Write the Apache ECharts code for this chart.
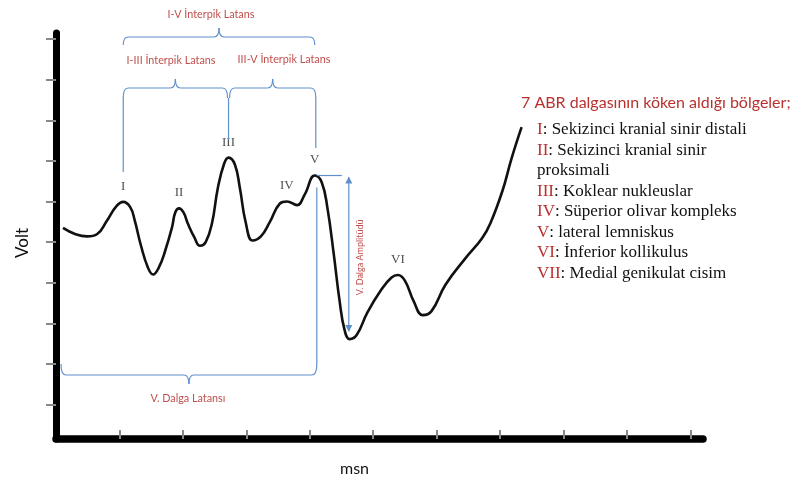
<!DOCTYPE html>
<html>
<head>
<meta charset="utf-8">
<script src="https://cdn.jsdelivr.net/npm/echarts@6/dist/echarts.min.js"></script>
<style>
  html, body { margin: 0; padding: 0; background: #fff; }
  #chart { width: 792px; height: 482px; }
</style>
</head>
<body>
<div id="chart"></div>
<script>
// ABR dalga formu (msn, volt)
var msn = [0.11,0.30,0.49,0.65,0.80,0.95,1.06,1.17,1.24,1.34,1.45,1.53,1.62,1.72,1.83,1.88,1.94,2.01,2.08,2.18,2.27,2.36,2.46,2.55,2.65,2.72,2.82,2.90,2.99,3.10,3.23,3.37,3.53,3.64,3.80,3.92,4.08,4.19,4.28,4.38,4.47,4.55,4.63,4.74,4.91,5.13,5.29,5.39,5.50,5.64,5.78,5.92,6.14,6.46,6.72,6.85,7.04,7.18,7.34];
var volt = [5.20,5.05,4.99,5.05,5.37,5.73,5.84,5.71,5.39,4.76,4.22,4.05,4.22,4.63,5.22,5.58,5.68,5.58,5.30,4.97,4.76,4.85,5.32,6.17,6.78,6.93,6.76,6.17,5.34,4.89,4.99,5.34,5.80,5.85,5.76,6.02,6.49,6.32,5.68,4.54,3.41,2.68,2.46,2.56,3.12,3.68,3.98,4.04,3.90,3.39,3.05,3.15,3.80,4.46,4.95,5.32,6.12,6.90,7.68];
var peakNames = ['I', 'II', 'III', 'IV', 'V', 'VI'];
var peakIdx = [6, 16, 25, 33, 36, 47];
var troughV = 42;
var msnTicks = [1, 2, 3, 4, 5, 6, 7, 8, 9, 10];
var voltTicks = [0.85, 1.85, 2.85, 3.85, 4.85, 5.85, 6.85, 7.85, 8.85, 9.85];

var braceLabels = ['I-V İnterpik Latans', 'I-III İnterpik Latans', 'III-V İnterpik Latans', 'V. Dalga Latansı', 'V. Dalga Amplitüdü'];
var listTitle = '7 ABR dalgasının köken aldığı bölgeler;';
var listNums = ['I', 'II', '', 'III', 'IV', 'V', 'VI', 'VII'];
var listTexts = ['Sekizinci kranial sinir distali', 'Sekizinci kranial sinir', 'proksimali', 'Koklear nukleuslar', 'Süperior olivar kompleks', 'lateral lemniskus', 'İnferior kollikulus', 'Medial genikulat cisim'];

var RED = '#b8312f';
var BLUE = '#5f8fcb';
var chart = echarts.init(document.getElementById('chart'));

var option = {
    animation: false,
    grid: { left: 56, right: 89, top: 33, bottom: 39 },
    xAxis: {
        type: 'value', min: 0, max: 10.2,
        name: 'msn', nameLocation: 'middle', nameGap: 22,
        nameTextStyle: { fontFamily: 'Lato', fontSize: 16, color: '#111', padding: [0, 50, 0, 0] },
        axisLine: { lineStyle: { color: '#000', width: 7.5 } },
        axisTick: { show: true, inside: true, length: 9, customValues: msnTicks, lineStyle: { color: '#888', width: 2 } },
        axisLabel: { show: false },
        splitLine: { show: false }
    },
    yAxis: {
        type: 'value', min: 0, max: 10,
        name: 'Volt', nameLocation: 'middle', nameGap: 25, nameRotate: 90,
        nameTextStyle: { fontFamily: 'Lato', fontSize: 17, color: '#111', padding: [0, 14, 0, 0] },
        axisLine: { show: true, lineStyle: { color: '#000', width: 7 } },
        axisTick: { show: true, length: 10, customValues: voltTicks, lineStyle: { color: '#888', width: 2 } },
        axisLabel: { show: false },
        splitLine: { show: false }
    },
    series: [
        {
            type: 'line',
            data: msn.map(function (m, i) { return [m, volt[i]]; }),
            smooth: 0.45,
            showSymbol: false,
            lineStyle: { color: '#111', width: 2.6 },
            z: 3
        },
        {
            type: 'scatter',
            symbolSize: 0,
            data: peakIdx.map(function (i, k) { return [msn[i], volt[i], peakNames[k]]; }),
            label: {
                show: true, position: 'top', distance: 9,
                formatter: function (p) { return p.data[2]; },
                fontFamily: 'Liberation Serif', fontSize: 13, color: '#222'
            }
        }
    ]
};
chart.setOption(option);

function px(i) { return chart.convertToPixel({ gridIndex: 0 }, [msn[i], volt[i]]); }

var lineStyle = { stroke: BLUE, lineWidth: 1.2, fill: null };
var g = [];
function seg(x1, y1, x2, y2) {
    g.push({ type: 'line', shape: { x1: x1, y1: y1, x2: x2, y2: y2 }, style: lineStyle, z: 5 });
}
function curve(x1, y1, cx, cy, x2, y2) {
    g.push({ type: 'bezierCurve', shape: { x1: x1, y1: y1, cpx1: cx, cpy1: cy, x2: x2, y2: y2 }, style: lineStyle, z: 5 });
}
// parantez: d = +1 uclar asagi (ust parantez), d = -1 uclar yukari
function brace(x1, x2, y, h, d) {
    var m = (x1 + x2) / 2;
    curve(x1, y + d * h, x1, y, x1 + 5, y);
    seg(x1 + 5, y, m - 5, y);
    curve(m - 5, y, m, y, m, y - d * 9);
    curve(m, y - d * 9, m, y, m + 5, y);
    seg(m + 5, y, x2 - 5, y);
    curve(x2 - 5, y, x2, y, x2, y + d * h);
}
function txt(x, y, s, size, rot) {
    g.push({ type: 'text', x: x, y: y, rotation: rot || 0, z: 6,
        style: { text: s, fill: '#c0504d', font: size + 'px Lato', align: 'center', verticalAlign: 'middle' } });
}

var p1 = px(peakIdx[0]), p3 = px(peakIdx[2]), p5 = px(peakIdx[4]), pt = px(troughV);

brace(p1[0], p5[0], 37, 8, 1);
txt(211, 15, braceLabels[0], 10.8);
brace(p1[0], p3[0] - 1, 88, 10, 1);
brace(p3[0] + 1, p5[0] + 1, 88, 10, 1);
txt(171, 61, braceLabels[1], 10.8);
txt(284, 60, braceLabels[2], 10.8);
seg(p1[0], 98, p1[0], 172);
seg(p3[0], 98, p3[0], 140);
seg(p5[0] + 1, 98, p5[0] + 1, 148);

// V. dalga latansi
seg(p5[0] + 2, p5[1] + 12, p5[0] + 2, 364);
brace(61, p5[0] + 2, 375, 11, -1);
txt((61 + p5[0]) / 2, 399, braceLabels[3], 10.8);

// V. dalga amplitudu
var ax = p5[0] + 34;
seg(p5[0] + 2, p5[1], p5[0] + 27, p5[1]);
seg(ax, p5[1] + 2, ax, pt[1] - 8);
g.push({ type: 'polygon', shape: { points: [[ax, p5[1] + 1], [ax - 3.5, p5[1] + 8], [ax + 3.5, p5[1] + 8]] }, style: { fill: BLUE }, z: 5 });
g.push({ type: 'polygon', shape: { points: [[ax, pt[1] - 7], [ax - 3.5, pt[1] - 14], [ax + 3.5, pt[1] - 14]] }, style: { fill: BLUE }, z: 5 });
txt(ax + 11, (p5[1] + pt[1]) / 2, braceLabels[4], 9, Math.PI / 2);

// sag taraftaki aciklama listesi
g.push({ type: 'text', x: 521, y: 103, z: 6,
    style: { text: listTitle, fill: RED, font: '16px Lato', verticalAlign: 'middle' } });
listTexts.forEach(function (t, i) {
    var s = listNums[i] ? '{n|' + listNums[i] + '}: ' + t : t;
    g.push({ type: 'text', x: 537, y: 130 + i * 20.5, z: 6,
        style: {
            text: s, fill: '#111', fontFamily: 'Liberation Serif', fontSize: 17, verticalAlign: 'middle',
            rich: { n: { fill: RED, fontFamily: 'Liberation Serif', fontSize: 17 } }
        } });
});

chart.setOption({ graphic: g });
</script>
</body>
</html>
